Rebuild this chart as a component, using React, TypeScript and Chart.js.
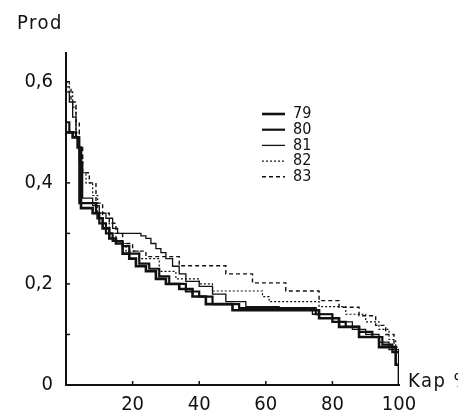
import React, { useEffect, useRef } from "react";
import { Chart, registerables } from "chart.js";

Chart.register(...registerables);

const seriesLabels = ["79", "80", "81", "82", "83"];

const x79 = [0, 2, 3.5, 4.5, 8, 9.5, 11, 13, 15, 17, 19, 21, 24, 27, 30, 34, 38, 42, 50, 76, 82, 88, 94, 99, 100];
const y79 = [0.5, 0.49, 0.47, 0.35, 0.34, 0.33, 0.31, 0.29, 0.28, 0.26, 0.25, 0.235, 0.225, 0.21, 0.2, 0.19, 0.175, 0.16, 0.148, 0.132, 0.115, 0.095, 0.075, 0.04, 0];

const x80 = [0, 1, 3, 4, 9, 10, 12, 14, 17, 19, 22, 25, 28, 31, 36, 40, 44, 52, 75, 80, 84, 88, 92, 95, 98, 100];
const y80 = [0.52, 0.5, 0.49, 0.36, 0.34, 0.32, 0.3, 0.285, 0.275, 0.26, 0.24, 0.23, 0.215, 0.2, 0.185, 0.175, 0.16, 0.152, 0.14, 0.125, 0.115, 0.105, 0.095, 0.08, 0.065, 0];

const x81 = [0, 1, 2, 3, 4, 5, 8, 10, 12, 14, 15.5, 22.5, 24, 25.5, 27, 28.5, 30, 32, 34, 36, 40, 44, 48, 54, 64, 74, 80, 86, 90, 94, 97, 100];
const y81 = [0.58, 0.56, 0.53, 0.49, 0.44, 0.37, 0.355, 0.34, 0.33, 0.31, 0.3, 0.295, 0.29, 0.28, 0.27, 0.262, 0.25, 0.235, 0.22, 0.205, 0.195, 0.18, 0.165, 0.155, 0.15, 0.14, 0.125, 0.11, 0.1, 0.085, 0.07, 0];

const x82 = [0, 1, 2, 3, 4, 5, 6, 8, 9.5, 11, 13, 15, 18, 22, 28, 33, 40, 44, 59, 61, 76, 84, 90, 94, 97, 99, 100];
const y82 = [0.6, 0.58, 0.55, 0.5, 0.45, 0.42, 0.4, 0.375, 0.34, 0.32, 0.3, 0.28, 0.265, 0.25, 0.225, 0.21, 0.2, 0.186, 0.175, 0.165, 0.155, 0.14, 0.125, 0.11, 0.09, 0.07, 0];

const x83 = [0, 1.5, 3, 4, 5, 7, 9, 11, 13, 15, 17, 20, 24, 34, 48, 56, 66, 76, 82, 88, 93, 96, 98.5, 100];
const y83 = [0.59, 0.56, 0.52, 0.47, 0.42, 0.4, 0.36, 0.34, 0.32, 0.3, 0.28, 0.265, 0.254, 0.236, 0.22, 0.202, 0.186, 0.167, 0.154, 0.137, 0.118, 0.1, 0.075, 0];

const yTickValues = [0, 0.1, 0.2, 0.3, 0.4, 0.5, 0.6];
const yLabelled = [0, 0.2, 0.4, 0.6];
const xTickValues = [0, 20, 40, 60, 80, 100];
const xMarks = [20, 40, 60, 80];

const yTitle = "Prod";
const xTitle = "Kap %";

const FONT = "'DejaVu Sans Condensed', 'Liberation Sans Narrow', 'DejaVu Sans', sans-serif";
const INK = "#111";

function pts(xs: number[], ys: number[]) {
  return xs.map((x, i) => ({ x, y: ys[i] }));
}

const annotPlugin = {
  id: "annot",
  afterDraw(chart: any) {
    const ctx = chart.ctx;
    const area = chart.chartArea;
    const xs = chart.scales.x;
    const ys = chart.scales.y;
    ctx.save();
    ctx.strokeStyle = INK;
    ctx.lineWidth = 1.5;
    ctx.setLineDash([]);
    for (const v of yTickValues) {
      if (v === 0) continue;
      const py = ys.getPixelForValue(v);
      ctx.beginPath();
      ctx.moveTo(area.left, py);
      ctx.lineTo(area.left + 4, py);
      ctx.stroke();
    }
    for (const v of xMarks) {
      const px = xs.getPixelForValue(v);
      ctx.beginPath();
      ctx.moveTo(px, area.bottom);
      ctx.lineTo(px, area.bottom - 4);
      ctx.stroke();
    }
    ctx.fillStyle = INK;
    ctx.font = `20px ${FONT}`;
    ctx.textBaseline = "middle";
    ctx.textAlign = "left";
    try { (ctx as any).letterSpacing = "1.5px"; } catch (e) {}
    ctx.fillText(yTitle, 9, 16);
    ctx.fillText(xTitle, area.right + 9, area.bottom - 3);
    try { (ctx as any).letterSpacing = "0px"; } catch (e) {}
    ctx.font = `16px ${FONT}`;
    const lx0 = area.left + 196;
    const lx1 = area.left + 219;
    const tx = area.left + 227;
    chart.data.datasets.forEach((ds: any, i: number) => {
      const y = area.top + 61 + i * 15.7;
      ctx.beginPath();
      ctx.lineWidth = ds.borderWidth;
      ctx.setLineDash(ds.borderDash || []);
      ctx.moveTo(lx0, y);
      ctx.lineTo(lx1, y);
      ctx.stroke();
      ctx.setLineDash([]);
      ctx.fillText(ds.label, tx, y);
    });
    ctx.restore();
  },
};

export default function App() {
  const ref = useRef<HTMLCanvasElement>(null);
  useEffect(() => {
    if (!ref.current) return;
    const mk = (label: string, data: any[], width: number, dash: number[]) => ({
      label,
      data,
      borderColor: INK,
      borderWidth: width,
      borderDash: dash,
      pointRadius: 0,
      fill: false,
      stepped: "before" as const,
      tension: 0,
    });
    const chart = new Chart(ref.current, {
      type: "line",
      data: {
        datasets: [
          mk(seriesLabels[0], pts(x79, y79), 2.6, []),
          mk(seriesLabels[1], pts(x80, y80), 2.2, []),
          mk(seriesLabels[2], pts(x81, y81), 1.3, []),
          mk(seriesLabels[3], pts(x82, y82), 1.2, [2, 2]),
          mk(seriesLabels[4], pts(x83, y83), 1.4, [4, 3]),
        ],
      },
      options: {
        animation: false,
        responsive: false,
        maintainAspectRatio: false,
        layout: { padding: { left: 0, top: 45, right: 67, bottom: 0 } },
        plugins: { legend: { display: false }, tooltip: { enabled: false } },
        scales: {
          x: {
            type: "linear",
            min: 0,
            max: 100,
            grid: { display: false, drawTicks: false },
            border: { display: true, color: INK, width: 2 },
            afterBuildTicks: (s: any) => {
              s.ticks = xTickValues.map((v) => ({ value: v }));
            },
            afterFit: (s: any) => {
              s.height = 30;
            },
            ticks: {
              padding: 8,
              color: INK,
              font: { family: FONT, size: 20 },
              maxRotation: 0,
              autoSkip: false,
              callback: (v: any) => (v === 0 ? "" : String(v)),
            },
          },
          y: {
            type: "linear",
            min: 0,
            max: 0.657,
            grid: { display: false, drawTicks: false },
            border: { display: true, color: INK, width: 2 },
            afterBuildTicks: (s: any) => {
              s.ticks = yTickValues.map((v) => ({ value: v }));
            },
            afterFit: (s: any) => {
              s.width = 58;
            },
            ticks: {
              padding: 13,
              color: INK,
              font: { family: FONT, size: 20 },
              autoSkip: false,
              callback: (v: any) => {
                const n = Number(v);
                if (!yLabelled.some((l) => Math.abs(l - n) < 1e-6)) return "";
                return n === 0 ? "0" : n.toFixed(1).replace(".", ",");
              },
            },
          },
        },
      },
      plugins: [annotPlugin],
    });
    return () => chart.destroy();
  }, []);
  return (
    <div style={{ width: 458, height: 407 }}>
      <canvas ref={ref} width={458} height={407} style={{ display: "block" }} />
    </div>
  );
}
